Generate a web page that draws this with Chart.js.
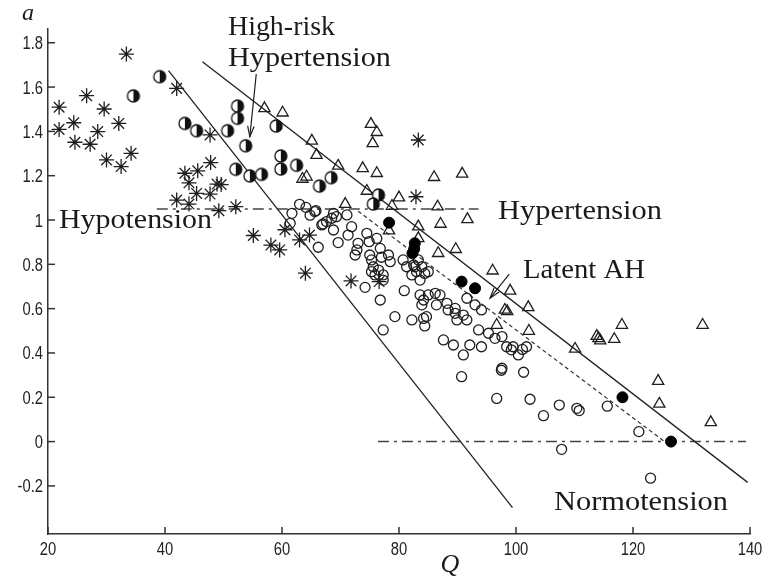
<!DOCTYPE html>
<html>
<head>
<meta charset="utf-8">
<script src="https://cdn.jsdelivr.net/npm/chart.js@4.4.0/dist/chart.umd.min.js"></script>
<style>
  html, body { margin: 0; padding: 0; background: #fff; }
  #wrap { width: 765px; height: 579px; }
</style>
</head>
<body>
<div id="wrap"><canvas id="chart" width="765" height="579"></canvas></div>
<script>
// --- AXES ---
const xTicks = [20, 40, 60, 80, 100, 120, 140];
const yTicks = [-0.2, 0, 0.2, 0.4, 0.6, 0.8, 1, 1.2, 1.4, 1.6, 1.8];

// --- GROUPS (Q, a) ---
// hypotension : asterisks
const hypoQ = [21.9, 21.9, 24.4, 24.6, 26.6, 27.2, 28.5, 29.6, 30.0, 32.1, 32.5, 33.4, 34.2,
  42.0, 42.0, 43.4, 44.1, 44.1, 45.6, 45.4, 47.7, 47.8, 47.7, 48.9, 49.6, 49.2, 52.1,
  55.1, 58.1, 59.6, 60.5, 63.0, 64.7, 64.0, 71.8, 76.6, 83.3, 82.9];
const hypoA = [1.509, 1.409, 1.439, 1.351, 1.561, 1.342, 1.399, 1.501, 1.271, 1.436, 1.241, 1.749, 1.301,
  1.594, 1.090, 1.211, 1.168, 1.072, 1.222, 1.120, 1.384, 1.259, 1.117, 1.162, 1.160, 1.042, 1.060,
  0.930, 0.887, 0.865, 0.956, 0.910, 0.932, 0.760, 0.725, 0.722, 1.361, 1.105];

// high-risk hypertension : half filled circles
const riskQ = [34.6, 39.1, 43.4, 45.4, 50.7, 52.4, 52.4, 53.8, 52.1, 54.5, 56.5, 59.0, 59.8, 59.8,
  62.5, 66.4, 68.4, 76.5, 75.6];
const riskA = [1.560, 1.647, 1.436, 1.403, 1.403, 1.514, 1.459, 1.335, 1.229, 1.199, 1.206, 1.424, 1.289, 1.230,
  1.247, 1.153, 1.191, 1.113, 1.072];

// hypertension : triangles
const hyperQ = [57.0, 60.1, 65.1, 65.9, 63.5, 64.2, 69.6, 73.8, 76.2, 75.2, 76.2, 75.5, 74.5, 70.8,
  80.0, 78.8, 86.0, 90.8, 86.6, 83.3, 87.1, 91.7, 78.3, 83.3, 86.7, 89.7, 96.0, 99.0, 102.1,
  98.1, 98.5, 96.7, 102.2, 110.1, 113.8, 114.1, 114.4, 116.8, 118.1, 131.9, 124.3, 124.5, 133.3];
const hyperA = [1.504, 1.484, 1.357, 1.293, 1.185, 1.195, 1.244, 1.233, 1.211, 1.433, 1.396, 1.346, 1.131, 1.072,
  1.101, 1.063, 1.193, 1.208, 1.060, 0.970, 0.982, 1.003, 0.952, 0.917, 0.850, 0.868, 0.771, 0.680, 0.606,
  0.594, 0.588, 0.526, 0.499, 0.418, 0.476, 0.466, 0.456, 0.462, 0.526, 0.526, 0.273, 0.170, 0.087];

// latent AH : filled circles
const latentQ = [78.3, 82.7, 82.6, 82.3, 90.7, 93.0, 118.2, 126.5];
const latentA = [0.988, 0.895, 0.870, 0.850, 0.722, 0.692, 0.200, 0.000];

// normotension : open circles
const normQ = [64.1, 65.6, 68.8, 68.5, 69.3, 71.1, 66.8, 67.6, 68.8, 71.9, 71.3, 69.6, 66.2,
  74.5, 76.2, 74.9, 73.0, 72.8, 72.5, 75.0, 76.8, 78.2, 78.5, 77.0, 75.3, 75.6, 76.5, 75.9,
  77.3, 75.3, 74.2, 76.8, 77.3, 80.7, 81.3, 82.5, 83.0, 83.9, 84.4, 85.0, 83.6, 82.2, 80.9,
  83.6, 84.2, 85.0, 86.2, 87.0, 86.4, 83.9, 83.3, 82.7, 88.2, 89.6, 91.0, 91.6, 89.9, 89.6,
  79.3, 82.2, 84.7, 84.4, 84.2, 77.3, 87.6, 89.3, 92.1, 91.0, 94.1, 93.6, 95.3, 96.4, 91.6,
  93.0, 94.1, 97.6, 98.4, 99.5, 100.4, 101.8, 97.6, 90.7, 101.3, 96.7, 102.4,
  63.0, 61.7, 64.8, 65.8, 61.4, 67.0, 97.5, 88.4, 99.2, 101.1,
  104.7, 107.4, 110.4, 110.8, 115.6, 121.0, 107.8, 123.0];
const normA = [1.057, 1.038, 1.030, 1.008, 1.015, 1.023, 0.978, 0.993, 0.955, 0.970, 0.932, 0.898, 0.877,
  0.940, 0.917, 0.902, 0.895, 0.865, 0.842, 0.842, 0.872, 0.842, 0.812, 0.832, 0.820, 0.789, 0.774, 0.752,
  0.752, 0.767, 0.696, 0.639, 0.729, 0.820, 0.789, 0.797, 0.767, 0.789, 0.759, 0.767, 0.729, 0.752, 0.681,
  0.662, 0.639, 0.662, 0.669, 0.662, 0.617, 0.617, 0.820, 0.789, 0.624, 0.579, 0.571, 0.549, 0.549, 0.601,
  0.564, 0.549, 0.564, 0.522, 0.556, 0.504, 0.459, 0.436, 0.436, 0.391, 0.428, 0.504, 0.489, 0.466, 0.647,
  0.617, 0.594, 0.474, 0.428, 0.428, 0.391, 0.428, 0.331, 0.293, 0.313, 0.195, 0.191,
  1.071, 1.030, 1.022, 1.042, 0.985, 0.982, 0.322, 0.594, 0.414, 0.416,
  0.117, 0.165, 0.150, 0.140, 0.160, 0.045, -0.035, -0.165];

// --- BOUNDARY LINES ---
const leftEdgeQ = [40.6, 99.4];
const leftEdgeA = [1.674, -0.298];
const rightEdgeQ = [46.4, 139.6];
const rightEdgeA = [1.714, -0.184];
const latentEdgeQ = [73.0, 125.4];
const latentEdgeA = [1.04, 0];
const hypoLevelQ = [38.6, 93.6];
const hypoLevelA = [1.05, 1.05];
const zeroLevelQ = [76.4, 139.3];
const zeroLevelA = [0, 0];

// arrows (tail -> head)
const riskArrowQ = [55.6, 54.5];
const riskArrowA = [1.659, 1.376];
const latentArrowQ = [98.85, 95.56];
const latentArrowA = [0.756, 0.647];

const ink = '#1e1e1e';
const tickFont = "'Liberation Sans', Arial, sans-serif";
const textFont = "'Liberation Serif', 'Times New Roman', serif";

function pts(qs, as) {
  return qs.map((q, i) => ({ x: q, y: as[i] }));
}

// marker: left half white, right half black
function halfDot(r) {
  const c = document.createElement('canvas');
  const s = Math.ceil(2 * r + 4);
  c.width = s; c.height = s;
  const g = c.getContext('2d');
  const cx = s / 2, cy = s / 2;
  g.beginPath(); g.arc(cx, cy, r, 0, 2 * Math.PI); g.fillStyle = '#fff'; g.fill();
  g.beginPath(); g.moveTo(cx, cy - r); g.arc(cx, cy, r, -Math.PI / 2, Math.PI / 2); g.closePath();
  g.fillStyle = '#111'; g.fill();
  g.beginPath(); g.arc(cx, cy, r, 0, 2 * Math.PI); g.lineWidth = 1.3; g.strokeStyle = '#111'; g.stroke();
  return c;
}

function lineSet(qs, as, dash, color, width) {
  return {
    data: pts(qs, as), showLine: true, pointRadius: 0, fill: false,
    borderColor: color, borderWidth: width, borderDash: dash, order: 5
  };
}

function arrow(ctx, x, y, qs, as) {
  const x0 = x.getPixelForValue(qs[0]), y0 = y.getPixelForValue(as[0]);
  const x1 = x.getPixelForValue(qs[1]), y1 = y.getPixelForValue(as[1]);
  const ang = Math.atan2(y1 - y0, x1 - x0);
  ctx.beginPath(); ctx.moveTo(x0, y0); ctx.lineTo(x1, y1); ctx.stroke();
  ctx.beginPath();
  ctx.moveTo(x1 - 11 * Math.cos(ang - 0.3), y1 - 11 * Math.sin(ang - 0.3));
  ctx.lineTo(x1, y1);
  ctx.lineTo(x1 - 11 * Math.cos(ang + 0.3), y1 - 11 * Math.sin(ang + 0.3));
  ctx.stroke();
}

// text squeezed/stretched to a given width
function fitText(ctx, text, x, y, width, align) {
  const w = ctx.measureText(text).width;
  const k = width / w;
  ctx.save();
  ctx.translate(x, y);
  ctx.scale(k, 1);
  ctx.textAlign = align || 'left';
  ctx.fillText(text, 0, 0);
  ctx.restore();
}

// narrow tick labels, inward tick marks, region names, arrows and axis letters
const decor = {
  id: 'decor',
  afterDraw(chart) {
    const { ctx, chartArea: area, scales: { x, y } } = chart;
    ctx.save();
    ctx.strokeStyle = '#333';
    ctx.lineWidth = 1.5;
    xTicks.forEach(v => {
      const px = x.getPixelForValue(v);
      ctx.beginPath(); ctx.moveTo(px, area.bottom); ctx.lineTo(px, area.bottom - 7); ctx.stroke();
    });
    yTicks.forEach(v => {
      const py = y.getPixelForValue(v);
      ctx.beginPath(); ctx.moveTo(area.left, py); ctx.lineTo(area.left + 7, py); ctx.stroke();
    });

    ctx.fillStyle = '#222';
    ctx.font = '18px ' + tickFont;
    ctx.textBaseline = 'alphabetic';
    xTicks.forEach(v => {
      const s = String(v);
      const px = x.getPixelForValue(v);
      ctx.save(); ctx.translate(px, area.bottom + 21); ctx.scale(0.82, 1);
      ctx.textAlign = 'center'; ctx.fillText(s, 0, 0); ctx.restore();
    });
    yTicks.forEach(v => {
      const s = String(v);
      const py = y.getPixelForValue(v);
      ctx.save(); ctx.translate(area.left - 5, py + 6.5); ctx.scale(0.82, 1);
      ctx.textAlign = 'right'; ctx.fillText(s, 0, 0); ctx.restore();
    });

    ctx.strokeStyle = ink;
    ctx.lineWidth = 1.2;
    arrow(ctx, x, y, riskArrowQ, riskArrowA);
    arrow(ctx, x, y, latentArrowQ, latentArrowA);

    ctx.fillStyle = '#1a1a1a';
    ctx.font = '28px ' + textFont;
    fitText(ctx, 'High-risk', 228, 35, 107);
    fitText(ctx, 'Hypertension', 228, 66, 163);
    fitText(ctx, 'Hypotension', 59, 228, 153);
    fitText(ctx, 'Hypertension', 498, 219, 164);
    fitText(ctx, 'Latent AH', 523, 278, 122);
    fitText(ctx, 'Normotension', 554, 510, 174);

    ctx.font = 'italic 24px ' + textFont;
    ctx.textAlign = 'left';
    ctx.fillText('a', 22, 20);
    ctx.textAlign = 'center';
    ctx.font = 'italic 26px ' + textFont;
    ctx.fillText('Q', 450, 572);
    ctx.restore();
  }
};

new Chart(document.getElementById('chart'), {
  type: 'scatter',
  data: {
    datasets: [
      { label: 'Latent AH', data: pts(latentQ, latentA), pointStyle: 'circle', pointRadius: 5.5,
        pointBackgroundColor: '#000', pointBorderColor: '#000', pointBorderWidth: 1, order: 1 },
      { label: 'Hypotension', data: pts(hypoQ, hypoA), pointStyle: 'star', pointRadius: 7.5,
        pointBorderColor: ink, pointBackgroundColor: 'transparent', pointBorderWidth: 1.3, order: 2 },
      { label: 'High-risk Hypertension', data: pts(riskQ, riskA), pointStyle: halfDot(6), order: 2 },
      { label: 'Hypertension', data: pts(hyperQ, hyperA), pointStyle: 'triangle', pointRadius: 6.5,
        pointBorderColor: ink, pointBackgroundColor: 'transparent', pointBorderWidth: 1.3, order: 3 },
      { label: 'Normotension', data: pts(normQ, normA), pointStyle: 'circle', pointRadius: 5,
        pointBorderColor: ink, pointBackgroundColor: 'transparent', pointBorderWidth: 1.3, order: 4 },
      lineSet(leftEdgeQ, leftEdgeA, [], '#222', 1.3),
      lineSet(rightEdgeQ, rightEdgeA, [], '#222', 1.3),
      lineSet(latentEdgeQ, latentEdgeA, [4, 3], '#333', 1.2),
      lineSet(hypoLevelQ, hypoLevelA, [11, 5, 3, 5], '#444', 1.5),
      lineSet(zeroLevelQ, zeroLevelA, [11, 5, 3, 5], '#444', 1.5)
    ]
  },
  options: {
    responsive: false,
    animation: false,
    devicePixelRatio: 1,
    layout: { padding: { top: 29, right: 15, left: 0, bottom: 0 } },
    plugins: { legend: { display: false }, tooltip: { enabled: false } },
    scales: {
      x: {
        type: 'linear', min: 20, max: 140,
        grid: { display: false, drawTicks: false },
        border: { color: '#333', width: 1.5 },
        ticks: { display: false },
        afterBuildTicks: s => { s.ticks = xTicks.map(v => ({ value: v })); },
        afterFit: s => { s.height = 45; }
      },
      y: {
        type: 'linear', min: -0.417, max: 1.862,
        grid: { display: false, drawTicks: false },
        border: { color: '#333', width: 1.5 },
        ticks: { display: false },
        afterBuildTicks: s => { s.ticks = yTicks.map(v => ({ value: v })); },
        afterFit: s => { s.width = 48; }
      }
    }
  },
  plugins: [decor]
});
</script>
</body>
</html>
